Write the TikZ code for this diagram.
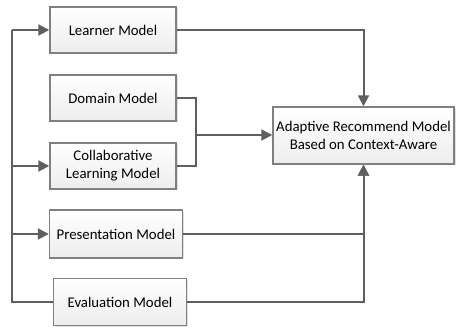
\documentclass[tikz,border=0pt]{standalone}
\usepackage{fontspec}
\setmainfont{Carlito}
\usepackage{xcolor}
\usetikzlibrary{arrows.meta,shadows}
\definecolor{LineGray}{HTML}{5F5F5F}
\definecolor{BoxGray}{HTML}{808080}

\begin{document}
\begin{tikzpicture}[
  x=1pt, y=-1pt,
  every node/.style={align=center,font=\fontsize{14.8}{18}\selectfont},
  model/.style={draw=BoxGray,line width=1.4pt,top color=white,bottom color=gray!14,
    minimum width=126pt,minimum height=46pt,inner sep=2pt,
    drop shadow={opacity=0.25,shadow xshift=1.5pt,shadow yshift=-1.5pt}},
  % plain connectors and the ones that end in an arrow head
  line/.style={draw=LineGray,line width=2pt},
  link/.style={line,-{Triangle[length=11pt,width=11pt]}}
]
\useasboundingbox (0,0) rectangle (456,328);

% --- nodes ---
\node[model] (learner) at (113,30) {Learner Model};
\node[model] (domain) at (113,98) {Domain Model};
\node[model] (collab) at (113,166) {Collaborative\\Learning Model};
\node[model,minimum width=133pt,minimum height=48pt] (present) at (116,234) {Presentation Model};
\node[model,minimum width=133pt,minimum height=47pt] (eval) at (120,302) {Evaluation Model};
\node[model,minimum width=181pt,minimum height=57pt] (adapt) at (363.5,135.5)
  {Adaptive Recommend Model\\Based on Context-Aware};

% --- helper points ---
\coordinate (join) at (196,135);
\coordinate (ttop) at (12,30);
\coordinate (tbot) at (12,302);

% --- connectors into the recommend model ---
\draw[link] (learner.east) -| (adapt.north);
\draw[line] (domain.east) -| (join);
\draw[line] (collab.east) -| (join);
\draw[link] (join) -- (join -| adapt.west);
\draw[link] (present.east) -| (adapt.south);
\draw[link] (eval.east) -| (adapt.south);

% --- feedback trunk on the left ---
\draw[line] (eval.west) -- (tbot) -- (ttop);
\draw[link] (ttop) -- (learner.west);
\draw[link] (ttop |- collab.west) -- (collab.west);
\draw[link] (ttop |- present.west) -- (present.west);
\end{tikzpicture}
\end{document}
